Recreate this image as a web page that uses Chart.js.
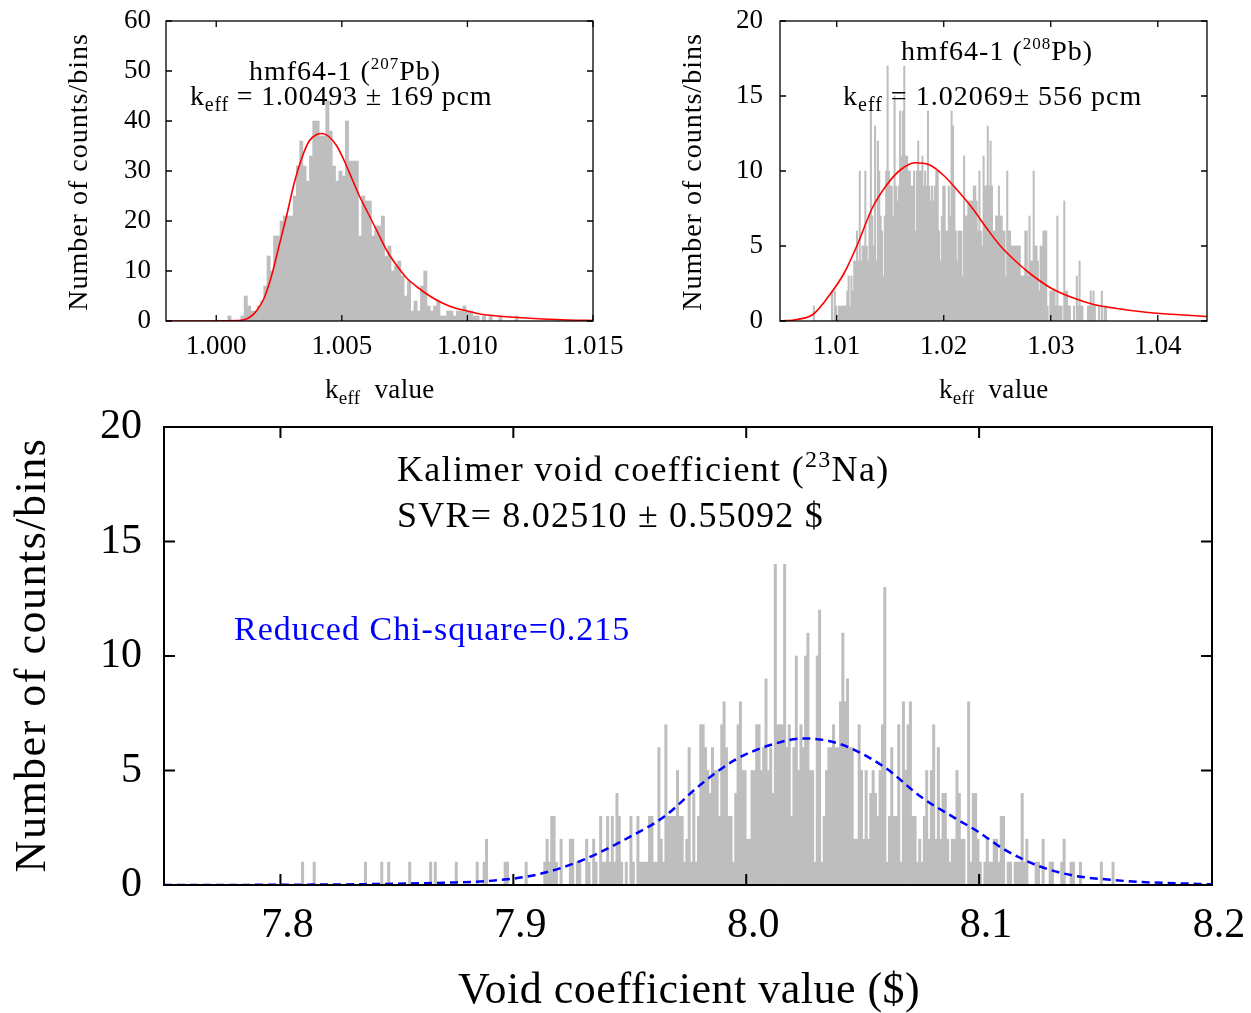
<!DOCTYPE html>
<html>
<head>
<meta charset="utf-8">
<script src="https://cdn.jsdelivr.net/npm/chart.js@4.4.0/dist/chart.umd.min.js"></script>
<style>
  body { margin: 0; background: #fff; width: 1251px; height: 1013px; position: relative; overflow: hidden; }
  canvas { position: absolute; }
</style>
</head>
<body>
<canvas id="pb207" width="625" height="420" style="left:0;top:0"></canvas>
<canvas id="pb208" width="626" height="420" style="left:625px;top:0"></canvas>
<canvas id="na23" width="1251" height="618" style="left:0;top:395px"></canvas>
<script>
const SERIF = '"Liberation Serif", "DejaVu Serif", serif';

// ---- hmf64-1 (207Pb) histogram ----
const pb207BinStart = 1.00046;
const pb207BinWidth = 0.00013;
const pb207Counts = [
  1, 0, 0, 0, 1, 5, 3, 2, 2, 3,
  4, 7, 13, 10, 17, 17, 20, 21, 21, 21,
  25, 31, 36, 31, 28, 33, 40, 40, 37, 37,
  44, 38, 31, 28, 30, 29, 40, 32, 32, 32,
  17, 25, 24, 24, 17, 19, 19, 21, 13, 15,
  10, 11, 12, 9, 5, 8, 2, 4, 2, 7,
  10, 3, 2, 3, 4, 1, 1, 2, 2, 1,
  2, 2, 3, 2, 2, 1, 1, 0, 1, 0,
  1, 0, 0, 1, 0, 0, 0, 0, 1
];
const pb207FitX = [0.998, 1.0009, 1.0012, 1.0014, 1.0016, 1.0019, 1.0022, 1.0025, 1.0028, 1.0031, 1.0034, 1.0037, 1.0040, 1.0042, 1.0045, 1.0048, 1.0051, 1.0054, 1.0057, 1.0060, 1.0064, 1.0068, 1.0072, 1.0076, 1.0080, 1.0085, 1.0090, 1.0095, 1.0100, 1.0105, 1.0110, 1.0120, 1.0130, 1.0140, 1.0150];
const pb207FitY = [0, 0.1, 0.4, 1, 2, 4.5, 9, 15, 21, 27.5, 32.5, 36, 37.3, 37.5, 36.8, 35, 32, 28.5, 25, 22, 18, 14, 11, 8.5, 6.8, 5, 3.6, 2.6, 2, 1.4, 1.1, 0.7, 0.4, 0.2, 0.1];
const pb207XTicks = [1.000, 1.005, 1.010, 1.015];
const pb207XLabels = ["1.000", "1.005", "1.010", "1.015"];
const pb207YTicks = [0, 10, 20, 30, 40, 50, 60];

// ---- hmf64-1 (208Pb) histogram ----
const pb208BinStart = 1.0078;
const pb208BinWidth = 0.00013;
const pb208Counts = [
  1, 0, 0, 0, 0, 0, 0, 0, 0, 0,
  0, 0, 0, 2, 0, 2, 1, 0, 1, 1,
  1, 1, 1, 1, 2, 3, 1, 3, 2, 4,
  4, 6, 4, 10, 4, 5, 5, 10, 5, 4,
  7, 14, 7, 5, 13, 4, 12, 10, 7, 6,
  3, 7, 10, 17, 10, 9, 9, 7, 15, 9,
  8, 9, 14, 11, 14, 17, 11, 11, 10, 10,
  9, 9, 10, 6, 10, 12, 10, 10, 11, 9,
  10, 9, 14, 9, 8, 9, 8, 9, 10, 10,
  6, 4, 7, 9, 9, 6, 6, 9, 7, 14,
  13, 9, 6, 4, 6, 6, 6, 3, 11, 7,
  7, 8, 8, 8, 8, 9, 9, 8, 6, 10,
  6, 5, 11, 9, 9, 13, 9, 12, 9, 6,
  6, 7, 7, 9, 7, 7, 6, 6, 3, 10,
  6, 6, 5, 5, 5, 5, 5, 5, 5, 3,
  3, 3, 6, 6, 3, 7, 4, 4, 10, 5,
  5, 4, 2, 5, 5, 6, 6, 6, 1, 0,
  2, 2, 2, 2, 1, 7, 1, 1, 1, 0,
  8, 2, 2, 1, 1, 0, 0, 1, 0, 3,
  1, 4, 1, 1, 0, 0, 0, 1, 1, 2,
  1, 2, 1, 0, 0, 1, 0, 2, 0, 1,
  1
];
const pb208FitX = [1.0047, 1.0063, 1.0078, 1.0093, 1.0107, 1.0120, 1.0133, 1.0147, 1.0160, 1.0173, 1.0187, 1.0200, 1.0213, 1.0227, 1.0240, 1.0253, 1.0267, 1.0280, 1.0300, 1.0320, 1.0340, 1.0360, 1.0387, 1.0413, 1.0446];
const pb208FitY = [0, 0.1, 0.45, 1.7, 3.2, 5.2, 7.5, 9.1, 10.1, 10.55, 10.4, 9.7, 8.7, 7.5, 6.2, 5.0, 4.0, 3.2, 2.2, 1.56, 1.1, 0.85, 0.6, 0.45, 0.3];
const pb208XTicks = [1.01, 1.02, 1.03, 1.04];
const pb208XLabels = ["1.01", "1.02", "1.03", "1.04"];
const pb208YTicks = [0, 5, 10, 15, 20];

// ---- Kalimer void coefficient (23Na) histogram ----
const naBinStart = 7.805;
const naBinWidth = 0.001;
const naCounts = [
  0, 0, 0, 0, 1, 0, 0, 0, 0, 1,
  0, 0, 0, 0, 0, 0, 0, 0, 0, 0,
  0, 0, 0, 0, 0, 0, 0, 0, 0, 0,
  0, 1, 0, 0, 0, 0, 0, 0, 1, 0,
  0, 1, 0, 0, 0, 0, 0, 0, 0, 0,
  1, 0, 0, 0, 0, 0, 0, 0, 0, 1,
  0, 1, 0, 0, 0, 0, 0, 0, 0, 0,
  1, 0, 0, 0, 0, 0, 0, 0, 0, 1,
  0, 0, 1, 2, 0, 0, 0, 0, 0, 0,
  0, 1, 1, 0, 0, 0, 0, 0, 0, 0,
  1, 0, 0, 0, 0, 0, 0, 0, 1, 2,
  1, 3, 3, 1, 0, 2, 0, 0, 0, 2,
  2, 0, 1, 1, 0, 0, 2, 1, 0, 2,
  1, 0, 3, 1, 1, 3, 1, 3, 1, 4,
  3, 1, 0, 1, 0, 3, 1, 0, 3, 1,
  1, 1, 1, 3, 3, 1, 1, 6, 2, 1,
  7, 3, 3, 3, 3, 5, 3, 3, 1, 2,
  6, 1, 4, 1, 3, 7, 7, 6, 5, 4,
  6, 5, 5, 3, 7, 8, 6, 3, 3, 1,
  4, 7, 8, 5, 5, 2, 2, 5, 5, 7,
  7, 5, 6, 9, 5, 6, 4, 14, 7, 7,
  7, 14, 6, 7, 3, 6, 10, 5, 7, 6,
  10, 11, 5, 5, 1, 10, 12, 1, 3, 5,
  6, 6, 7, 6, 6, 8, 11, 8, 9, 6,
  6, 2, 2, 7, 5, 2, 5, 2, 4, 5,
  4, 3, 5, 7, 13, 1, 3, 6, 3, 3,
  7, 1, 8, 5, 7, 8, 3, 3, 1, 2,
  1, 3, 5, 2, 5, 7, 2, 6, 2, 4,
  4, 2, 1, 2, 2, 5, 4, 2, 2, 0,
  8, 1, 4, 4, 2, 1, 0, 1, 2, 1,
  1, 2, 2, 1, 3, 3, 0, 1, 1, 0,
  1, 1, 1, 4, 1, 2, 0, 0, 0, 1,
  1, 0, 2, 0, 0, 1, 1, 0, 0, 0,
  1, 2, 0, 0, 1, 1, 0, 0, 1, 0,
  0, 0, 0, 0, 0, 0, 0, 1, 0, 0,
  0, 0, 1
];
const naFitX = [7.75, 7.80, 7.84, 7.87, 7.89, 7.91, 7.93, 7.95, 7.965, 7.98, 7.995, 8.01, 8.025, 8.035, 8.045, 8.06, 8.075, 8.09, 8.10, 8.11, 8.125, 8.14, 8.155, 8.17, 8.19, 8.2];
const naFitY = [0, 0.01, 0.04, 0.1, 0.18, 0.45, 1.1, 2.1, 3.0, 4.35, 5.45, 6.1, 6.4, 6.3, 5.97, 5.1, 3.85, 2.9, 2.3, 1.6, 0.85, 0.42, 0.24, 0.13, 0.06, 0.03];
const naXTicks = [7.8, 7.9, 8.0, 8.1, 8.2];
const naXLabels = ["7.8", "7.9", "8.0", "8.1", "8.2"];
const naYTicks = [0, 5, 10, 15, 20];

function binPoints(start, width, counts) {
  return counts.map((c, i) => ({ x: start + (i + 0.5) * width, y: c }));
}

function curvePoints(xs, ys) {
  return xs.map((x, i) => ({ x: x, y: ys[i] }));
}

// draw text made of pieces [text, size factor, baseline shift in em]
function drawRich(ctx, parts, x, y, size, spacing, color) {
  let cx = x;
  ctx.save();
  ctx.fillStyle = color || "#000";
  ctx.textAlign = "left";
  ctx.textBaseline = "alphabetic";
  ctx.letterSpacing = (spacing || 0) + "px";
  parts.forEach(p => {
    ctx.font = Math.round(size * p[1]) + "px " + SERIF;
    ctx.fillText(p[0], cx, y + p[2] * size);
    cx += ctx.measureText(p[0]).width;
  });
  ctx.restore();
}

function drawVertical(ctx, text, x, y, size, spacing) {
  ctx.save();
  ctx.translate(x, y);
  ctx.rotate(-Math.PI / 2);
  ctx.font = size + "px " + SERIF;
  ctx.letterSpacing = spacing + "px";
  ctx.fillStyle = "#000";
  ctx.textAlign = "center";
  ctx.textBaseline = "middle";
  ctx.fillText(text, 0, 0);
  ctx.restore();
}

// gnuplot style frame with inward ticks on all four sides
function framePlugin(tickLen, lineWidth, drawTexts) {
  return {
    id: "frame",
    afterDraw(chart) {
      const ctx = chart.ctx;
      const a = chart.chartArea;
      const xs = chart.scales.x, ys = chart.scales.y;
      ctx.save();
      ctx.strokeStyle = "#000";
      ctx.lineWidth = lineWidth;
      ctx.beginPath();
      xs.ticks.forEach(t => {
        const px = xs.getPixelForValue(t.value);
        ctx.moveTo(px, a.bottom); ctx.lineTo(px, a.bottom - tickLen);
        ctx.moveTo(px, a.top); ctx.lineTo(px, a.top + tickLen);
      });
      ys.ticks.forEach(t => {
        const py = ys.getPixelForValue(t.value);
        ctx.moveTo(a.left, py); ctx.lineTo(a.left + tickLen, py);
        ctx.moveTo(a.right, py); ctx.lineTo(a.right - tickLen, py);
      });
      ctx.stroke();
      ctx.strokeRect(a.left, a.top, a.right - a.left, a.bottom - a.top);
      ctx.restore();
      drawTexts(ctx);
    }
  };
}

function makeHistogram(id, o) {
  return new Chart(document.getElementById(id), {
    type: "bar",
    data: {
      datasets: [
        {
          type: "line",
          data: o.fit,
          borderColor: o.fitColor,
          borderWidth: o.fitWidth,
          borderDash: o.fitDash || [],
          pointRadius: 0,
          fill: false,
          cubicInterpolationMode: "monotone",
          order: 0
        },
        {
          data: o.bars,
          backgroundColor: "#bebebe",
          borderWidth: 0,
          barPercentage: 1,
          categoryPercentage: 1,
          order: 1
        }
      ]
    },
    options: {
      responsive: false,
      animation: false,
      events: [],
      layout: { padding: { top: o.top, right: o.right, left: 0, bottom: 0 } },
      plugins: { legend: { display: false }, tooltip: { enabled: false } },
      scales: {
        x: {
          type: "linear",
          offset: false,
          min: o.xMin,
          max: o.xMax,
          grid: { display: false, drawTicks: false, offset: false },
          border: { display: false },
          afterBuildTicks: s => { s.ticks = o.xTicks.map(v => ({ value: v })); },
          afterFit: s => {
            s.height = o.xAxisHeight;
            s.paddingLeft = 0; s.paddingRight = 0;
          },
          ticks: {
            autoSkip: false,
            maxRotation: 0,
            padding: o.xPad,
            labelOffset: o.xLabelShift || 0,
            color: "#000",
            font: { family: SERIF, size: o.tickSize },
            callback: (v, i) => o.xLabels[i]
          }
        },
        y: {
          min: 0,
          max: o.yTicks[o.yTicks.length - 1],
          grid: { display: false, drawTicks: false },
          border: { display: false },
          afterBuildTicks: s => { s.ticks = o.yTicks.map(v => ({ value: v })); },
          afterFit: s => {
            s.width = o.yAxisWidth;
            s.paddingTop = 0; s.paddingBottom = 0;
          },
          ticks: {
            padding: o.yPad,
            color: "#000",
            font: { family: SERIF, size: o.tickSize },
            callback: (v, i) => String(o.yTicks[i])
          }
        }
      }
    },
    plugins: [framePlugin(o.tickLen, o.frameWidth, o.texts)]
  });
}

makeHistogram("pb207", {
  bars: binPoints(pb207BinStart, pb207BinWidth, pb207Counts),
  fit: curvePoints(pb207FitX, pb207FitY),
  fitColor: "#ff0000", fitWidth: 1.6,
  xMin: 0.998, xMax: 1.015,
  xTicks: pb207XTicks, xLabels: pb207XLabels, yTicks: pb207YTicks,
  top: 21, right: 32, xAxisHeight: 99, yAxisWidth: 166,
  xPad: 10, yPad: 15, tickSize: 27, tickLen: 6, frameWidth: 1.3,
  texts: ctx => {
    drawRich(ctx, [["hmf64-1 (", 1, 0], ["207", 0.62, -0.38], ["Pb)", 1, 0]], 249, 80, 28, 1);
    drawRich(ctx, [["k", 1, 0], ["eff", 0.7, 0.22], [" = 1.00493 \u00b1 169 pcm", 1, 0]], 190, 105, 28, 0.8);
    drawRich(ctx, [["k", 1, 0], ["eff", 0.7, 0.22], ["  value", 1, 0]], 325, 398, 27, 0.3);
    drawVertical(ctx, "Number of counts/bins", 80, 172, 28, 1);
  }
});

makeHistogram("pb208", {
  bars: binPoints(pb208BinStart, pb208BinWidth, pb208Counts),
  fit: curvePoints(pb208FitX, pb208FitY),
  fitColor: "#ff0000", fitWidth: 1.6,
  xMin: 1.0047, xMax: 1.0446,
  xTicks: pb208XTicks, xLabels: pb208XLabels, yTicks: pb208YTicks,
  top: 21, right: 44, xAxisHeight: 99, yAxisWidth: 155,
  xPad: 10, yPad: 17, tickSize: 27, tickLen: 6, frameWidth: 1.3,
  texts: ctx => {
    drawRich(ctx, [["hmf64-1 (", 1, 0], ["208", 0.62, -0.38], ["Pb)", 1, 0]], 276, 60, 28, 1);
    drawRich(ctx, [["k", 1, 0], ["eff", 0.7, 0.22], [" = 1.02069\u00b1 556 pcm", 1, 0]], 218, 105, 28, 1);
    drawRich(ctx, [["k", 1, 0], ["eff", 0.7, 0.22], ["  value", 1, 0]], 314, 398, 27, 0.3);
    drawVertical(ctx, "Number of counts/bins", 69, 172, 28, 1);
  }
});

makeHistogram("na23", {
  bars: binPoints(naBinStart, naBinWidth, naCounts),
  fit: curvePoints(naFitX, naFitY),
  fitColor: "#0000ff", fitWidth: 2.5, fitDash: [8, 5],
  xMin: 7.75, xMax: 8.2,
  xTicks: naXTicks, xLabels: naXLabels, yTicks: naYTicks,
  top: 32, right: 39, xAxisHeight: 128, yAxisWidth: 164,
  xPad: 16, yPad: 22, tickSize: 42, tickLen: 11, frameWidth: 2, xLabelShift: 7,
  texts: ctx => {
    drawRich(ctx, [["Kalimer void coefficient (", 1, 0], ["23", 0.66, -0.38], ["Na)", 1, 0]], 397, 86, 36, 1.3);
    drawRich(ctx, [["SVR= 8.02510 \u00b1 0.55092 $", 1, 0]], 397, 132, 36, 1.2);
    drawRich(ctx, [["Reduced Chi-square=0.215", 1, 0]], 234, 245, 34, 1, "#0000ff");
    drawRich(ctx, [["Void coefficient value ($)", 1, 0]], 458, 608, 44, 0.5);
    drawVertical(ctx, "Number of counts/bins", 33, 260, 44, 1.5);
  }
});
</script>
</body>
</html>
